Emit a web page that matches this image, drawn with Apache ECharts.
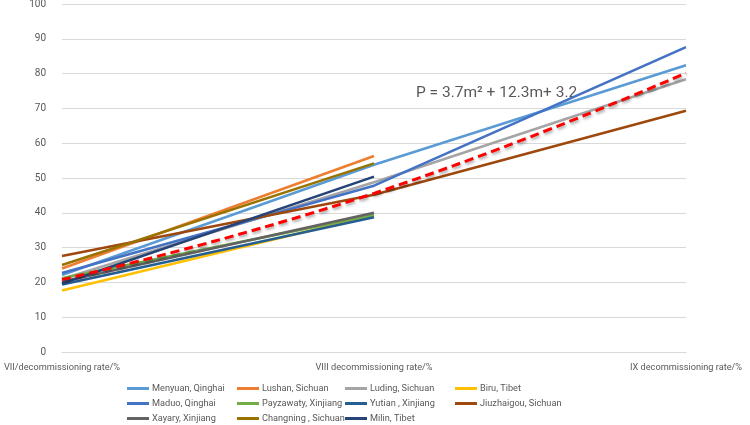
<!DOCTYPE html>
<html>
<head>
<meta charset="utf-8">
<script src="https://cdn.jsdelivr.net/npm/echarts@6/dist/echarts.min.js"></script>
<style>
  html, body { margin: 0; padding: 0; background: #fff; }
  #chart { width: 750px; height: 425px; }
</style>
</head>
<body>
<div id="chart"></div>
<script>
// categories on the x axis
var stages = ['VII/decommissioning rate/%', 'VIII decommissioning rate/%', 'IX decommissioning rate/%']

// one array per site (null = no point)
var menyuan = [22.1, 53.8, 82.4]
var lushan = [24.0, 56.3, null]
var luding = [21.0, 48.8, 78.4]
var biru = [17.7, 39.3, null]
var maduo = [22.7, 47.8, 87.6]
var payzawaty = [21.2, 39.4, null]
var yutian = [19.4, 38.7, null]
var jiuzhaigou = [27.6, 45.2, 69.3]
var xayary = [20.2, 40.0, null]
var changning = [25.0, 54.2, null]
var milin = [19.7, 50.4, null]
// fitted curve
var fitLine = [20.8, 45.6, 80.2]

var yTicks = [0, 100, 10] // min, max, interval

var names = ['Menyuan, Qinghai', 'Lushan, Sichuan', 'Luding, Sichuan', 'Biru, Tibet',
  'Maduo, Qinghai', 'Payzawaty, Xinjiang', 'Yutian , Xinjiang', 'Jiuzhaigou, Sichuan',
  'Xayary, Xinjiang', 'Changning , Sichuan', 'Milin, Tibet']
var values = [menyuan, lushan, luding, biru, maduo, payzawaty, yutian, jiuzhaigou, xayary, changning, milin]
var colors = ['#5B9BD5', '#ED7D31', '#A5A5A5', '#FFC000', '#4472C4', '#70AD47',
  '#255E91', '#9E480E', '#636363', '#997300', '#264478']

var font = 'Roboto, "Liberation Sans", sans-serif'

var series = names.map(function (n, i) {
  return {
    name: n,
    type: 'line',
    data: values[i],
    showSymbol: false,
    symbol: 'none',
    itemStyle: { color: colors[i] },
    lineStyle: { color: colors[i], width: 2.6 },
    animation: false
  }
})
series.push({
  name: 'fit',
  type: 'line',
  data: fitLine,
  smooth: true,
  symbol: 'none',
  itemStyle: { color: '#FF0000' },
  lineStyle: {
    color: '#FF0000',
    width: 3,
    type: [9, 5],
    shadowColor: 'rgba(0,0,0,0.35)',
    shadowBlur: 3,
    shadowOffsetX: 1,
    shadowOffsetY: 2
  },
  animation: false,
  z: 5
})

// legend laid out as 4 columns, 3 rows (row-major order of names)
var colLeft = [127, 237, 345, 455]
var legends = colLeft.map(function (x, c) {
  var items = []
  for (var r = 0; r < 3; r++) {
    if (names[r * 4 + c]) items.push(names[r * 4 + c])
  }
  return {
    data: items,
    orient: 'vertical',
    left: x,
    top: 382,
    icon: 'rect',
    itemWidth: 22,
    itemHeight: 3,
    itemGap: 2,
    padding: 0,
    textStyle: { color: '#595959', fontSize: 9.2, fontFamily: font, lineHeight: 13, padding: [0, 0, 0, -2] }
  }
})

var chart = echarts.init(document.getElementById('chart'))
chart.setOption({
  animation: false,
  grid: { left: 62, right: 64, top: 4, bottom: 73, containLabel: false, outerBoundsMode: 'none' },
  xAxis: {
    type: 'category',
    data: stages,
    boundaryGap: false,
    axisLine: { show: true, lineStyle: { color: '#D9D9D9', width: 1 } },
    axisTick: { show: false },
    axisLabel: { color: '#595959', fontSize: 9.2, fontFamily: font, margin: 11 }
  },
  yAxis: {
    type: 'value',
    min: yTicks[0],
    max: yTicks[1],
    interval: yTicks[2],
    axisLine: { show: false },
    axisTick: { show: false },
    splitLine: { lineStyle: { color: '#D9D9D9', width: 1 } },
    axisLabel: { color: '#595959', fontSize: 10, fontFamily: font, margin: 16 }
  },
  legend: legends,
  graphic: [{
    type: 'text',
    left: 416,
    top: 85,
    style: {
      text: 'P = 3.7m² + 12.3m+ 3.2',
      fill: '#595959',
      font: '15.5px ' + font
    }
  }],
  series: series
})
</script>
</body>
</html>
